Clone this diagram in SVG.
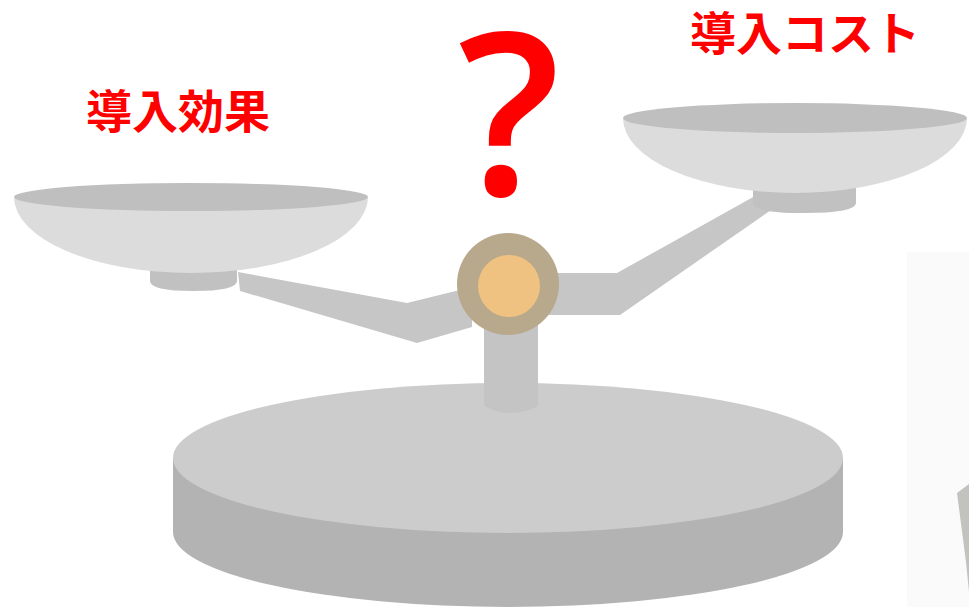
<svg xmlns="http://www.w3.org/2000/svg" width="969" height="607" viewBox="0 0 969 607">
  <style>
    .label { font-family: "Noto Sans CJK JP", "Noto Sans", sans-serif; font-weight: 700; font-size: 46px; fill: #ff0000; }
    .qmark { font-family: "Open Sans", "Noto Sans", sans-serif; font-weight: 600; font-size: 226px; fill: #ff0000; }
    .arm { fill: #c6c6c6; }
    .bowl { fill: #dcdcdc; }
    .rim { fill: #bfbfbf; }
    .foot { fill: #c1c1c1; }
  </style>
  <rect width="969" height="607" fill="#ffffff"/>

  <!-- faint panel and corner object at the right edge -->
  <g id="edge-object">
    <rect x="907" y="252" width="62" height="355" fill="#fafafa"/>
    <polygon points="957,493 969,484 969,592 966,562" fill="#c2c2be"/>
  </g>

  <!-- base -->
  <g id="base">
    <path d="M173,458 L173,532 A335,75 0 0 0 843,532 L843,458 Z" fill="#b3b3b3"/>
    <ellipse cx="508" cy="458" rx="335" ry="75" fill="#cccccc"/>
  </g>

  <!-- post -->
  <g id="post">
    <path d="M484,320 L484,406 Q511,420 538,406 L538,320 Z" fill="#c4c4c4"/>
  </g>

  <!-- beam -->
  <g id="beam">
    <polygon class="arm" points="238,272 407,303 472,287 472,327 417,343 240,291"/>
    <polygon class="arm" points="546,273 617,273 755,196 774,208 620,315 546,315"/>
  </g>

  <!-- left pan -->
  <g id="pan-left">
    <path class="foot" d="M150,262 L150,281 Q150,291 193,291 Q237,291 237,281 L237,262 Z"/>
    <path class="bowl" d="M14,197 A177,76 0 0 0 368,197 Z"/>
    <ellipse class="rim" cx="191" cy="197" rx="177" ry="14"/>
  </g>

  <!-- right pan -->
  <g id="pan-right">
    <path class="foot" d="M753,185 L753,203 Q753,213 804,213 Q856,213 856,203 L856,185 Z"/>
    <path class="bowl" d="M623,118 A172,75 0 0 0 967,118 Z"/>
    <ellipse class="rim" cx="795" cy="118" rx="172" ry="15"/>
  </g>

  <!-- pivot -->
  <g id="pivot">
    <circle cx="508" cy="284" r="51" fill="#b8a88c"/>
    <circle cx="509" cy="286" r="31" fill="#f0c282"/>
  </g>

  <!-- labels -->
  <g id="label-effect">
    <text class="label" x="86" y="128">導入効果</text>
  </g>
  <g id="label-cost">
    <text class="label" x="690" y="50">導入コスト</text>
  </g>
  <g id="question">
    <text class="qmark" x="509" y="195" text-anchor="middle">?</text>
  </g>
</svg>
